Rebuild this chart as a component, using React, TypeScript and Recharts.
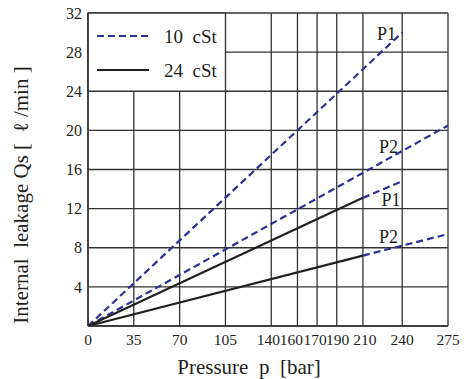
import React from 'react';
import {
  LineChart,
  Line,
  XAxis,
  YAxis,
  CartesianGrid,
  ReferenceArea,
  ReferenceDot,
  Legend,
} from 'recharts';

// pressure [bar] -> internal leakage [l/min]
const p1Thin = [ { p: 0, q: 0 }, { p: 240, q: 30 } ];
const p2Thin = [ { p: 0, q: 0 }, { p: 275, q: 20.5 } ];
const p1Thick = [ { p: 0, q: 0 }, { p: 210, q: 13.1 } ];
const p1ThickExt = [ { p: 210, q: 13.1 }, { p: 240, q: 14.8 } ];
const p2Thick = [ { p: 0, q: 0 }, { p: 210, q: 7.2 } ];
const p2ThickExt = [ { p: 210, q: 7.2 }, { p: 275, q: 9.4 } ];

// the "170" grid line sits at ~175 on the original drawing
const xTicks = [0, 35, 70, 105, 140, 160, 175, 190, 210, 240, 275];
const xTickLabels = ['0', '35', '70', '105', '140', '160', '170', '190', '210', '240', '275'];
const yTicks = [4, 8, 12, 16, 20, 24, 28, 32];

const curveLabels = [
  { p: 228, q: 29.9, text: 'P1' },
  { p: 229.5, q: 18.3, text: 'P2' },
  { p: 231.5, q: 12.9, text: 'P1' },
  { p: 229.5, q: 9.1, text: 'P2' },
];

const BLUE = '#2e3192';
const BLACK = '#231f20';
const GRID = '#333';
const FONT = '"Liberation Serif", "DejaVu Serif", serif';

// crowded labels in the middle are squeezed a bit, like in the original
const tickNudge: Record<number, number> = { 140: -3, 160: -6, 175: -2, 190: 1, 210: 2 };

const XTick = (props: any) => {
  const { x, y, payload } = props;
  const i = xTicks.indexOf(payload.value);
  return (
    <text
      x={x + (tickNudge[payload.value] || 0)}
      y={y}
      dy="0.71em"
      textAnchor="middle"
      fontFamily={FONT}
      fontSize={15.5}
      fill={BLACK}
    >
      {xTickLabels[i]}
    </text>
  );
};

const renderLegend = (props: any) => {
  const items = (props.payload || []).filter((e: any) => e.type !== 'none');
  return (
    <svg width={135} height={75}>
      {items.map((e: any, i: number) => {
        const y = 20 + i * 34;
        return (
          <g key={i}>
            <line
              x1={8} x2={60} y1={y} y2={y}
              stroke={e.color}
              strokeWidth={2.2}
              strokeDasharray={e.payload?.strokeDasharray}
            />
            <text
              x={75} y={y} dy="0.35em"
              fontFamily={FONT} fontSize={19} fill={BLACK}
            >
              {e.value}
            </text>
          </g>
        );
      })}
    </svg>
  );
};

export default function App() {
  return (
    <div style={{ position: 'absolute', left: 0, top: 0, background: '#fff' }}>
      <LineChart
        width={473}
        height={379}
        margin={{ top: 13, right: 25, left: 30, bottom: 23 }}
      >
        <CartesianGrid stroke={GRID} strokeWidth={1.3} />
        <XAxis
          type="number"
          dataKey="p"
          domain={[0, 275]}
          ticks={xTicks}
          interval={0}
          height={30}
          tickLine={false}
          tickSize={6}
          tickMargin={2}
          axisLine={{ stroke: GRID, strokeWidth: 1.5 }}
          tick={<XTick />}
          label={{
            value: 'Pressure\u00a0\u00a0p\u00a0\u00a0[bar]',
            position: 'bottom',
            offset: 3,
            dx: -19,
            style: { fontFamily: FONT, fontSize: 21, fill: BLACK },
          }}
        />
        <YAxis
          type="number"
          domain={[0, 32]}
          ticks={yTicks}
          interval={0}
          width={58}
          tickLine={false}
          tickSize={6}
          tickMargin={0}
          axisLine={{ stroke: GRID, strokeWidth: 1.5 }}
          tick={{ fontFamily: FONT, fontSize: 16, fill: BLACK }}
          label={{
            content: () => (
              <text
                x={21} y={195}
                transform="rotate(-90 21 195)"
                textAnchor="middle"
                dominantBaseline="central"
                fontFamily={FONT} fontSize={21} fill={BLACK}
              >
                {'Internal\u00a0\u00a0leakage\u00a0Qs\u00a0[\u00a0\u00a0\u2113\u00a0/min\u00a0]'}
              </text>
            ),
          }}
        />
        <ReferenceArea
          x1={0} x2={105} y1={24} y2={32}
          fill="#fff" fillOpacity={1}
          stroke={GRID} strokeWidth={1.3}
        />
        <Legend
          content={renderLegend}
          layout="vertical"
          align="center"
          verticalAlign="middle"
          wrapperStyle={{ left: 89, top: 16, width: 135, height: 75 }}
        />
        <Line data={p1Thin} dataKey="q" name={'10\u00a0\u00a0cSt'} stroke={BLUE} strokeWidth={2.2}
          strokeDasharray="7 4" dot={false} isAnimationActive={false} />
        <Line data={p2Thin} dataKey="q" stroke={BLUE} strokeWidth={2.2} legendType="none"
          strokeDasharray="7 4" dot={false} isAnimationActive={false} />
        <Line data={p1ThickExt} dataKey="q" stroke={BLUE} strokeWidth={2.2} legendType="none"
          strokeDasharray="7 4" dot={false} isAnimationActive={false} />
        <Line data={p2ThickExt} dataKey="q" stroke={BLUE} strokeWidth={2.2} legendType="none"
          strokeDasharray="7 4" dot={false} isAnimationActive={false} />
        <Line data={p1Thick} dataKey="q" name={'24\u00a0\u00a0cSt'} stroke={BLACK} strokeWidth={2.2}
          dot={false} isAnimationActive={false} />
        <Line data={p2Thick} dataKey="q" stroke={BLACK} strokeWidth={2.2} legendType="none"
          dot={false} isAnimationActive={false} />
        {curveLabels.map((l, i) => (
          <ReferenceDot
            key={i}
            x={l.p}
            y={l.q}
            r={0}
            fill="none"
            stroke="none"
            label={{
              value: l.text,
              position: 'center',
              style: { fontFamily: FONT, fontSize: 18, fill: BLACK },
            }}
          />
        ))}
      </LineChart>
    </div>
  );
}
